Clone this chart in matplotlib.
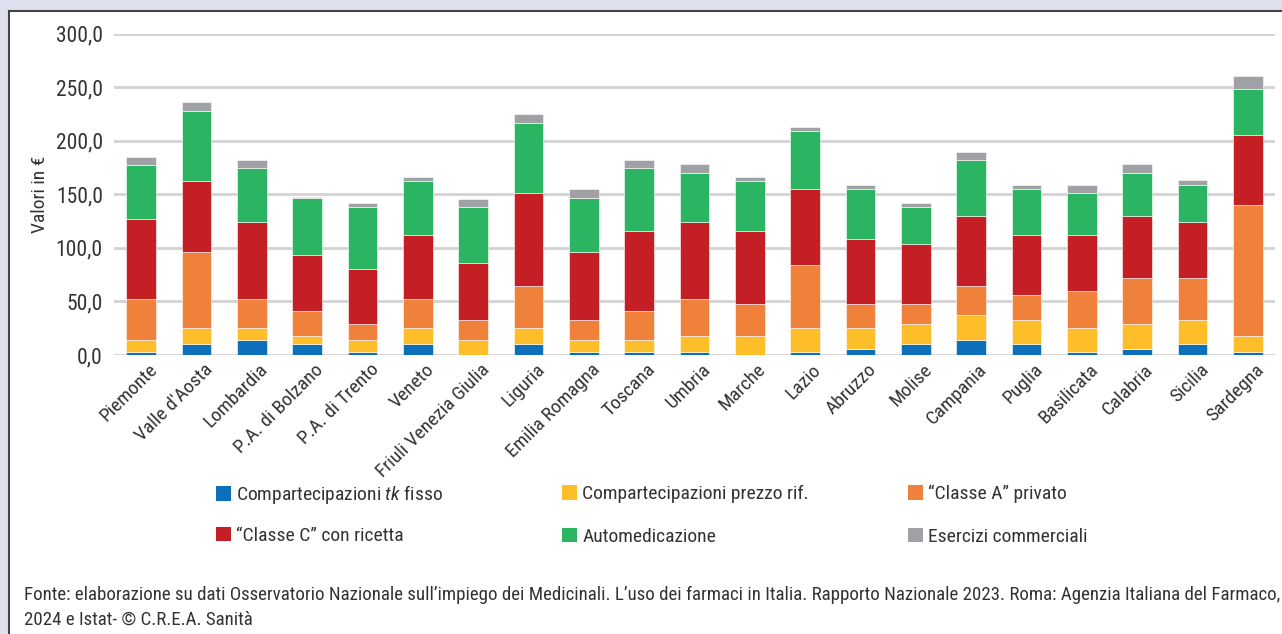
import matplotlib
matplotlib.use("Agg")
import matplotlib.pyplot as plt
from matplotlib.patches import Rectangle, Patch
from matplotlib.lines import Line2D
from matplotlib import transforms
import numpy as np

FONT = ["Roboto Condensed", "DejaVu Sans"]
plt.rcParams["font.family"] = FONT
plt.rcParams["mathtext.fontset"] = "custom"
plt.rcParams["mathtext.it"] = "Roboto Condensed:italic"
plt.rcParams["mathtext.rm"] = "Roboto Condensed"

BLUE = "#0B70B9"
YELLOW = "#FDBE2A"
ORANGE = "#F0813A"
RED = "#C41F25"
GREEN = "#2BB461"
GREY = "#A0A1A5"
TEXT = "#333333"
LAVENDER = "#DFE0ED"

regions = ["Piemonte", "Valle d'Aosta", "Lombardia", "P.A. di Bolzano", "P.A. di Trento",
           "Veneto", "Friuli Venezia Giulia", "Liguria", "Emilia Romagna", "Toscana",
           "Umbria", "Marche", "Lazio", "Abruzzo", "Molise", "Campania", "Puglia",
           "Basilicata", "Calabria", "Sicilia", "Sardegna"]

tk_fisso = [3, 10, 14, 10, 3, 10, 0, 10, 3, 3, 3, 0, 3, 6, 10, 14, 10, 3, 6, 10, 3]
prezzo_rif = [11, 15, 11, 8, 11, 15, 14, 15, 11, 11, 15, 18, 22, 19, 19, 23, 23, 22, 23, 23, 15]
classe_a = [38, 71, 27, 23, 15, 27, 19, 39, 19, 27, 34, 30, 59, 23, 19, 27, 23, 35, 43, 39, 122]
classe_c = [75, 66, 72, 52, 51, 60, 53, 87, 63, 75, 72, 68, 71, 60, 56, 66, 56, 52, 58, 52, 65.5]
automedicazione = [50, 66, 50.5, 54, 58, 50, 52, 66, 51, 59, 46, 46, 54.5, 47, 34, 52, 43, 39, 40, 35, 42.5]
esercizi = [8, 8, 7.5, 0.5, 4, 4, 8, 8, 8, 7.5, 8, 4, 3.5, 4, 4, 8, 4, 8, 8, 4, 12.5]

series_names = ["Compartecipazioni $\\it{tk}$ fisso", "Compartecipazioni prezzo rif.",
                "\u201cClasse A\u201d privato", "\u201cClasse C\u201d con ricetta",
                "Automedicazione", "Esercizi commerciali"]
series = [tk_fisso, prezzo_rif, classe_a, classe_c, automedicazione, esercizi]
colors = [BLUE, YELLOW, ORANGE, RED, GREEN, GREY]

yticks = [0, 50, 100, 150, 200, 250, 300]

W, H = 1282, 634
fig = plt.figure(figsize=(W / 100, H / 100), dpi=100)
fig.patch.set_facecolor(LAVENDER)

# white panel with dark top/left border
fig.patches.append(Rectangle((9 / W, 0), 1, 1 - 11 / H, transform=fig.transFigure,
                             facecolor="white", edgecolor="none", zorder=-5))
fig.lines.append(Line2D([8.5 / W, 1], [1 - 10.5 / H, 1 - 10.5 / H], transform=fig.transFigure,
                        color="#444444", lw=1.5, zorder=-4))
fig.lines.append(Line2D([8.5 / W, 8.5 / W], [0, 1 - 10.5 / H], transform=fig.transFigure,
                        color="#444444", lw=1.5, zorder=-4))

ax = fig.add_axes([114 / W, 1 - 355 / H, (1275 - 114) / W, (355 - 33.7) / H])
ax.set_facecolor("none")

x = np.arange(len(regions))
bottom = np.zeros(len(regions))
handles = []
for name, vals, col in zip(series_names, series, colors):
    vals = np.array(vals, dtype=float)
    ax.bar(x, vals, bottom=bottom, width=0.54, color=col, edgecolor="#ffffff",
           linewidth=0.4, zorder=3)
    bottom += vals
    handles.append(Patch(facecolor=col, edgecolor="none", label=name))

ax.set_xlim(-0.49, len(regions) - 0.51)
ax.set_ylim(0, 300)
ax.set_yticks(yticks)
ax.set_yticklabels([f"{v:.1f}".replace(".", ",") for v in yticks])
ax.yaxis.grid(True, color="#D3D3D3", lw=2, zorder=0)
ax.set_axisbelow(True)
for s in ax.spines.values():
    s.set_visible(False)
ax.tick_params(axis="y", length=0, pad=8, labelsize=15.5, labelcolor=TEXT)
ax.tick_params(axis="x", length=0, pad=4, labelsize=14, labelcolor=TEXT)
ax.set_xticks(x)
ax.set_xticklabels(regions, rotation=45, ha="right", va="top", rotation_mode="anchor")
offset = transforms.ScaledTranslation(7 / 100, 0, fig.dpi_scale_trans)
for lbl in ax.get_xticklabels():
    lbl.set_transform(lbl.get_transform() + offset)
ax.set_ylabel("Valori in \u20ac", fontsize=14, color=TEXT, labelpad=5)

# legend: three columns, two rows (one legend per column)
col_x = [216, 562, 908]
spacing = [1.06, 1.27, 1.27]
col_y = [514, 515.5, 515.5]
for i, cx in enumerate(col_x):
    fig.legend(handles=[handles[i], handles[i + 3]], loc="center left",
               bbox_to_anchor=(cx / W, 1 - col_y[i] / H), frameon=False,
               fontsize=14, handlelength=0.75, handleheight=0.75,
               handletextpad=0.3, labelspacing=spacing[i], borderpad=0,
               borderaxespad=0, labelcolor=TEXT)

fig.text(24 / W, 1 - 595 / H,
         "Fonte: elaborazione su dati Osservatorio Nazionale sull\u2019impiego dei Medicinali. "
         "L\u2019uso dei farmaci in Italia. Rapporto Nazionale 2023. Roma: Agenzia Italiana del Farmaco,",
         fontsize=13.6, color=TEXT, va="center", ha="left")
fig.text(24 / W, 1 - 620 / H, "2024 e Istat- \u00a9 C.R.E.A. Sanit\u00e0",
         fontsize=13.6, color=TEXT, va="center", ha="left")

fig.savefig("out.png", dpi=100, facecolor=fig.get_facecolor())
